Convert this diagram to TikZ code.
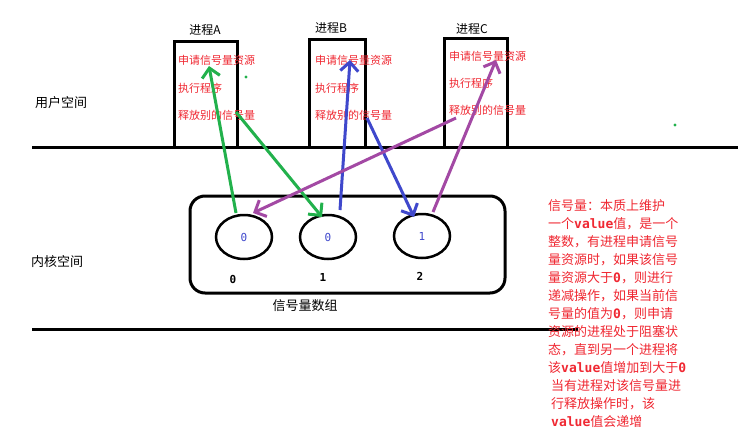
\documentclass[tikz,border=0pt]{standalone}
\usepackage{fontspec}
\setmainfont{Noto Sans CJK SC}
\newfontfamily\monof{DejaVu Sans Mono}
\usetikzlibrary{arrows.meta,shapes.geometric}
\definecolor{pgreen}{RGB}{34,177,76}
\definecolor{pblue}{RGB}{63,72,204}
\definecolor{ppurple}{RGB}{163,73,164}
\definecolor{ptext}{RGB}{240,40,50}
\begin{document}
\begin{tikzpicture}[x=1pt,y=-1pt,
  procbox/.style={draw,line width=3pt,inner sep=0pt},
  redtxt/.style={text=ptext,font=\fontsize{11}{13}\selectfont,anchor=west,inner sep=0pt},
  title/.style={font=\fontsize{12}{14}\selectfont,inner sep=0pt},
  cell/.style={draw,ellipse,line width=2.5pt,minimum width=56pt,minimum height=44pt,inner sep=0pt,text=pblue,font=\monof\fontsize{11}{13}\selectfont},
  idx/.style={font=\monof\bfseries\fontsize{11}{13}\selectfont,inner sep=0pt},
  arr/.style={line width=3pt,-{Straight Barb[length=9pt,width=18pt,line width=3pt]}},
  dotg/.style={fill=pgreen,circle,inner sep=1.2pt}
]
\useasboundingbox (0,0) rectangle (738,441);
\fill[white] (0,0) rectangle (738,441);
% space labels
\node[title,font=\fontsize{13}{15}\selectfont] (us) at (61,103) {用户空间};
\node[title,font=\fontsize{13}{15}\selectfont] (ks) at (57,262) {内核空间};
% separators
\coordinate (l1a) at (32,147); \coordinate (l1b) at (738,147);
\coordinate (l2a) at (32,329); \coordinate (l2b) at (578,329);
\draw[line width=3pt] (l1a) -- (l1b);
\draw[line width=3pt] (l2a) -- (l2b);
% process boxes
\node[procbox,minimum width=63pt,minimum height=105pt] (pa) at (205.5,94.5) {};
\node[procbox,minimum width=56pt,minimum height=107pt] (pb) at (337,93.5) {};
\node[procbox,minimum width=63pt,minimum height=108pt] (pc) at (475.5,93) {};
\node[title] (ta) at (205,30) {进程A};
\node[title] (tb) at (331,28) {进程B};
\node[title] (tc) at (472,29) {进程C};
% texts in boxes
\node[redtxt] (a1) at (178,60) {申请信号量资源};
\node[redtxt] (a2) at (178,88) {执行程序};
\node[redtxt] (a3) at (178,115) {释放别的信号量};
\node[redtxt] (b1) at (315,60) {申请信号量资源};
\node[redtxt] (b2) at (315,88) {执行程序};
\node[redtxt] (b3) at (315,115) {释放别的信号量};
\node[redtxt] (c1) at (449,56) {申请信号量资源};
\node[redtxt] (c2) at (449,83) {执行程序};
\node[redtxt] (c3) at (449,110) {释放别的信号量};
% dots
\node[dotg] (d1) at (246,77) {};
\node[dotg] (d2) at (675,125) {};
% kernel box
\node[draw,line width=3pt,rounded corners=15pt,minimum width=315pt,minimum height=97pt,inner sep=0pt] (kb) at (347.5,244.5) {};
\node[cell] (e0) at (244,237) {0};
\node[cell] (e1) at (328,237) {0};
\node[cell] (e2) at (422,236) {1};
\node[idx] (i0) at (233,279) {0};
\node[idx] (i1) at (323,277) {1};
\node[idx] (i2) at (420,276) {2};
\node[title,font=\fontsize{13}{15}\selectfont] (arrname) at (305,306) {信号量数组};
% arrow endpoints
\coordinate (g1s) at (236,213); \coordinate (g1e) at (209,66);
\coordinate (g2s) at (236,112); \coordinate (g2e) at (322,217);
\coordinate (b1s) at (340,210); \coordinate (b1e) at (350,60);
\coordinate (b2s) at (367,118); \coordinate (b2e) at (414,217);
\coordinate (p1s) at (433,212); \coordinate (p1e) at (496,60);
\coordinate (p2s) at (456,118); \coordinate (p2e) at (253,213);
\draw[arr,pgreen] (g1s) -- (g1e);
\draw[arr,pgreen] (g2s) -- (g2e);
\draw[arr,pblue] (b1s) -- (b1e);
\draw[arr,pblue] (b2s) -- (b2e);
\draw[arr,ppurple] (p1s) -- (p1e);
\draw[arr,ppurple] (p2s) -- (p2e);
% explanation
\node[text=ptext,font=\fontsize{13}{18}\selectfont,align=left,anchor=north west,inner sep=0pt] (note) at (548,199) {%
信号量：本质上维护\\
一个{\monof\bfseries value}值，是一个\\
整数，有进程申请信号\\
量资源时，如果该信号\\
量资源大于{\monof\bfseries 0}，则进行\\
递减操作，如果当前信\\
号量的值为{\monof\bfseries 0}，则申请\\
资源的进程处于阻塞状\\
态，直到另一个进程将\\
该{\monof\bfseries value}值增加到大于{\monof\bfseries 0}\\
\hspace*{3pt}当有进程对该信号量进\\
\hspace*{3pt}行释放操作时，该\\
\hspace*{3pt}{\monof\bfseries value}值会递增};
\end{tikzpicture}
\end{document}
